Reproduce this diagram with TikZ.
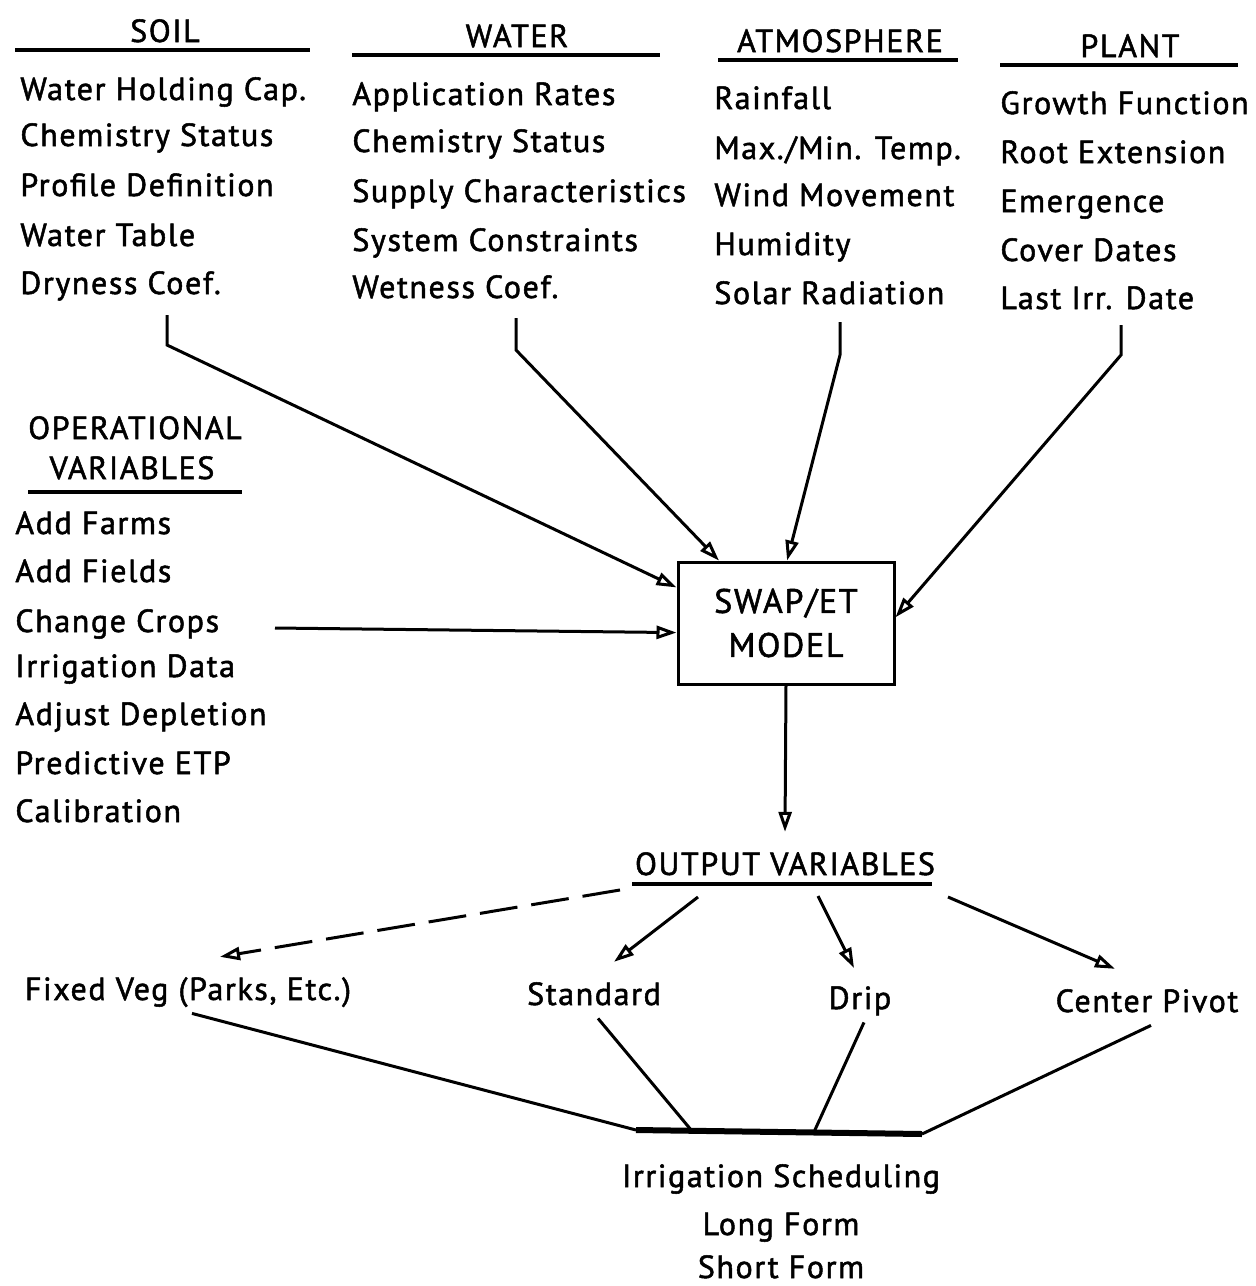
\documentclass[tikz,border=0pt]{standalone}
\usepackage{fontspec}
\setmainfont[LetterSpace=5,FakeBold=1.6]{PT Sans}
\usetikzlibrary{arrows.meta}

\begin{document}
\begin{tikzpicture}
[x=0.5pt,y=-0.5pt,%
  textDecorate/.style={inner sep=0pt,font=\fontsize{16}{18}\selectfont},%
  itemDecorate/.style={textDecorate,anchor=base west},%
  headDecorate/.style={textDecorate,anchor=base},%
  labelDecorate/.style={textDecorate,anchor=base,inner sep=4pt,text depth=0.25em},%
  boxDecorate/.style={draw,line width=1.5pt,inner sep=0pt,align=center,
    font=\fontsize{17}{19}\selectfont,minimum width=108pt,minimum height=61pt},%
  ruleDecorate/.style={line width=2pt},%
  lineDecorate/.style={-,line width=1.5pt},%
  arrowDecorate/.style={line width=1.5pt,-{Triangle[open,length=10pt,width=6.5pt]}}]
\useasboundingbox (0,0) rectangle (1255,1286);
%% headings
\foreach \nodename/\x/\y/\txt/\a/\b in {
  soil/165/42/SOIL/15/310, water/517/47/WATER/352/660,
  atmos/840/52/ATMOSPHERE/718/958, plant/1130/57/PLANT/1000/1238}
{
  \node (\nodename) at (\x,\y) [headDecorate] {\txt};
  \draw[ruleDecorate] (\a,\y+8) -- (\b,\y+8);
}
%% input lists
\foreach \nodename/\x/\y/\txt in {
  s1/20/100/Water Holding Cap., s2/20/146/Chemistry Status,
  s3/20/196/Profile Definition, s4/20/246/Water Table, s5/20/294/Dryness Coef.,
  w1/352/105/Application Rates, w2/352/152/Chemistry Status,
  w3/352/202/Supply Characteristics, w4/352/251/System Constraints,
  w5/352/298/Wetness Coef.,
  a1/714/109/Rainfall, a2/714/159/{Max./Min. Temp.}, a3/714/206/Wind Movement,
  a4/714/255/Humidity, a5/714/304/Solar Radiation,
  p1/1000/114/Growth Function, p2/1000/163/Root Extension,
  p3/1000/212/Emergence, p4/1000/261/Cover Dates, p5/1000/309/Last Irr. Date}
{
  \node (\nodename) at (\x,\y) [itemDecorate] {\txt};
}
%% operational variables
\node (oper1) at (135,439) [headDecorate] {OPERATIONAL};
\node (oper2) at (132,479) [headDecorate] {VARIABLES};
\draw[ruleDecorate] (28,492) -- (242,492);
\foreach \nodename/\y/\txt in {
  o1/534/Add Farms, o2/582/Add Fields, o3/632/Change Crops,
  o4/677/Irrigation Data, o5/725/Adjust Depletion, o6/774/Predictive ETP,
  o7/822/Calibration}
{
  \node (\nodename) at (15,\y) [itemDecorate] {\txt};
}
%% model
\node (model) at (786,623) [boxDecorate] {SWAP/ET\\[3pt]MODEL};
\coordinate (soilA) at (167,315);  \coordinate (soilB) at (167,345);
\coordinate (waterA) at (516,318); \coordinate (waterB) at (516,350);
\coordinate (atmosA) at (840,322); \coordinate (atmosB) at (840,355);
\coordinate (plantA) at (1121,325); \coordinate (plantB) at (1121,355);
\coordinate (operA) at (275,628);
\draw[arrowDecorate] (soilA) -- (soilB) -- (model.162);
\draw[arrowDecorate] (waterA) -- (waterB) -- (model.137);
\draw[arrowDecorate] (atmosA) -- (atmosB) -- (model.89);
\draw[arrowDecorate] (plantA) -- (plantB) -- (model.3);
\draw[arrowDecorate] (operA) -- (model.185);
%% output
\node (output) at (785,875) [headDecorate] {OUTPUT VARIABLES};
\draw[ruleDecorate] (632,884) -- (932,884);
\coordinate (outA) at (620,890);  \coordinate (outB) at (698,897);
\coordinate (outC) at (818,896);  \coordinate (outD) at (948,897);
\draw[arrowDecorate] (model.south) -- ([yshift=10pt]output.north);
\node (fixed) at (188,1000) [labelDecorate] {Fixed Veg (Parks, Etc.)};
\node (standard) at (594,1005) [labelDecorate] {Standard};
\node (drip) at (860,1009) [labelDecorate] {Drip};
\node (pivot) at (1147,1012) [labelDecorate] {Center Pivot};
\draw[arrowDecorate,dash pattern=on 19pt off 7pt] (outA) -- ([xshift=16pt,yshift=6pt]fixed.north);
\draw[arrowDecorate] (outB) -- ([xshift=10pt,yshift=6pt]standard.north);
\draw[arrowDecorate] (outC) -- ([xshift=-3pt,yshift=5pt]drip.north);
\draw[arrowDecorate] (outD) -- ([xshift=-16pt,yshift=6pt]pivot.north);
%% scheduling
\coordinate (bar1) at (636,1130); \coordinate (bar2) at (692,1131);
\coordinate (bar3) at (814,1132); \coordinate (bar4) at (922,1134);
\draw[line width=3pt] (bar1) -- (bar4);
\path
\foreach \startnode/\endnode in {fixed/bar1, standard/bar2, drip/bar3, pivot/bar4}
{
  ([xshift=2pt]\startnode.south) edge[lineDecorate] (\endnode)
};
\node (sched1) at (781,1187) [headDecorate] {Irrigation Scheduling};
\node (sched2) at (781,1235) [headDecorate] {Long Form};
\node (sched3) at (781,1278) [headDecorate] {Short Form};
\end{tikzpicture}
\end{document}
